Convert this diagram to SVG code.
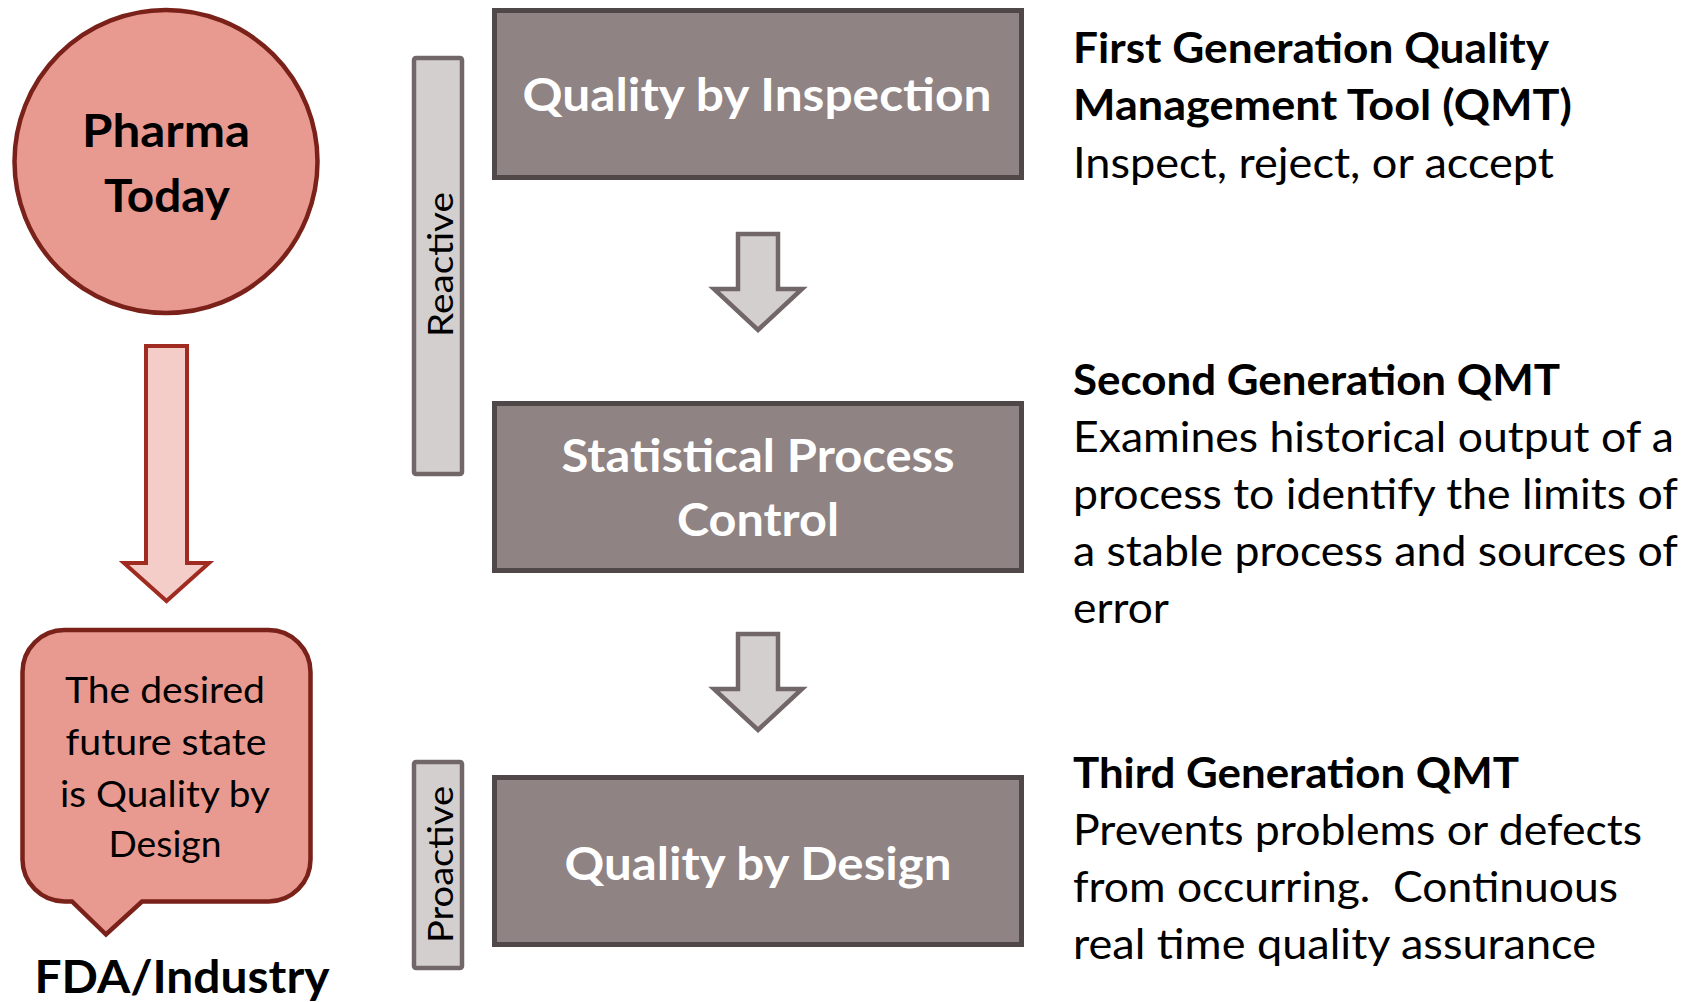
<svg xmlns="http://www.w3.org/2000/svg" width="1694" height="1002" viewBox="0 0 1694 1002">
  <style>
    text { font-family: Lato, "Open Sans", "Liberation Sans", sans-serif; }
    .pink { fill: #e99a90; stroke: #7a2119; stroke-width: 4.5; }
    .bigarrow { fill: #f4cdc8; stroke: #a02b20; stroke-width: 4; stroke-linejoin: miter; }
    .stage { fill: #8f8383; stroke: #4f4748; stroke-width: 5; }
    .stage-label { fill: #ffffff; font-weight: 700; font-size: 45px; text-anchor: middle; }
    .bar { fill: #d4cfcf; stroke: #716768; stroke-width: 4.5; }
    .bar-label { fill: #000000; font-size: 35px; text-anchor: middle; }
    .step { fill: #d4cfcf; stroke: #716768; stroke-width: 4.5; stroke-linejoin: miter; }
    .head { fill: #000000; font-weight: 700; font-size: 42px; }
    .body { fill: #000000; font-size: 42px; }
    .dark { fill: #000000; font-weight: 700; text-anchor: middle; }
    .note { fill: #000000; font-size: 37px; text-anchor: middle; }
  </style>

  <!-- left column: current state -->
  <g id="pharma-today">
    <circle class="pink" cx="166" cy="161.5" r="151.5"/>
    <text class="dark" x="166" y="147" font-size="46" textLength="168" lengthAdjust="spacingAndGlyphs">Pharma</text>
    <text class="dark" x="167" y="212" font-size="46" textLength="126" lengthAdjust="spacingAndGlyphs">Today</text>
  </g>

  <!-- left column: desired state callout -->
  <g id="desired-state">
    <path class="pink" d="M64.5,630 H268.5 A42,42 0 0 1 310.5,672 V859.5 A42,42 0 0 1 268.5,901.5 H142 L106,934.5 L72,901.5 H64.5 A42,42 0 0 1 22.5,859.5 V672 A42,42 0 0 1 64.5,630 Z"/>
    <text class="note" x="165" y="703" textLength="200" lengthAdjust="spacingAndGlyphs">The desired</text>
    <text class="note" x="166" y="755" textLength="201" lengthAdjust="spacingAndGlyphs">future state</text>
    <text class="note" x="165" y="807" textLength="210" lengthAdjust="spacingAndGlyphs">is Quality by</text>
    <text class="note" x="165" y="857" textLength="113" lengthAdjust="spacingAndGlyphs">Design</text>
  </g>

  <g id="fda-industry">
    <text class="dark" x="182" y="993" font-size="46" textLength="295" lengthAdjust="spacingAndGlyphs">FDA/Industry</text>
  </g>

  <!-- side bars -->
  <g id="reactive">
    <rect class="bar" x="414" y="58" width="48" height="416" rx="2"/>
    <text class="bar-label" transform="translate(453,264.5) rotate(-90)" textLength="145" lengthAdjust="spacingAndGlyphs">Reactive</text>
  </g>
  <g id="proactive">
    <rect class="bar" x="414" y="762" width="48" height="206" rx="2"/>
    <text class="bar-label" transform="translate(453,864.5) rotate(-90)" textLength="157" lengthAdjust="spacingAndGlyphs">Proactive</text>
  </g>

  <!-- quality management stages -->
  <g id="quality-by-inspection">
    <rect class="stage" x="494.5" y="10.5" width="527" height="167"/>
    <text class="stage-label" x="757" y="111" textLength="469" lengthAdjust="spacingAndGlyphs">Quality by Inspection</text>
  </g>
  <g id="statistical-process-control">
    <rect class="stage" x="494.5" y="403.5" width="527" height="167"/>
    <text class="stage-label" x="758" y="472" textLength="393" lengthAdjust="spacingAndGlyphs">Statistical Process</text>
    <text class="stage-label" x="758" y="536" textLength="162" lengthAdjust="spacingAndGlyphs">Control</text>
  </g>
  <g id="quality-by-design">
    <rect class="stage" x="494.5" y="777.5" width="527" height="167"/>
    <text class="stage-label" x="758" y="880" textLength="387" lengthAdjust="spacingAndGlyphs">Quality by Design</text>
  </g>

  <!-- connectors: block arrows -->
  <g id="connectors">
    <path class="bigarrow" d="M146,346 H187 V563 H209 L166.5,601 L124,563 H146 Z"/>
    <path class="step" d="M738,234 H778 V289 H802 L758,330 L714,289 H738 Z"/>
    <path class="step" d="M738,634 H778 V689 H802 L758,730 L714,689 H738 Z"/>
  </g>

  <!-- descriptions -->
  <g id="first-generation">
    <text class="head" x="1073" y="63" textLength="476" lengthAdjust="spacingAndGlyphs">First Generation Quality</text>
    <text class="head" x="1073" y="120" textLength="499" lengthAdjust="spacingAndGlyphs">Management Tool (QMT)</text>
    <text class="body" x="1073" y="178" textLength="481" lengthAdjust="spacingAndGlyphs">Inspect, reject, or accept</text>
  </g>
  <g id="second-generation">
    <text class="head" x="1073" y="395" textLength="487" lengthAdjust="spacingAndGlyphs">Second Generation QMT</text>
    <text class="body" x="1073" y="452" textLength="601" lengthAdjust="spacingAndGlyphs">Examines historical output of a</text>
    <text class="body" x="1073" y="509" textLength="605" lengthAdjust="spacingAndGlyphs">process to identify the limits of</text>
    <text class="body" x="1073" y="566" textLength="605" lengthAdjust="spacingAndGlyphs">a stable process and sources of</text>
    <text class="body" x="1073" y="623" textLength="96" lengthAdjust="spacingAndGlyphs">error</text>
  </g>
  <g id="third-generation">
    <text class="head" x="1073" y="788" textLength="446" lengthAdjust="spacingAndGlyphs">Third Generation QMT</text>
    <text class="body" x="1073" y="845" textLength="569" lengthAdjust="spacingAndGlyphs">Prevents problems or defects</text>
    <text class="body" x="1073" y="902" textLength="545" lengthAdjust="spacingAndGlyphs" style="white-space:pre">from occurring.  Continuous</text>
    <text class="body" x="1073" y="959" textLength="523" lengthAdjust="spacingAndGlyphs">real time quality assurance</text>
  </g>
</svg>
